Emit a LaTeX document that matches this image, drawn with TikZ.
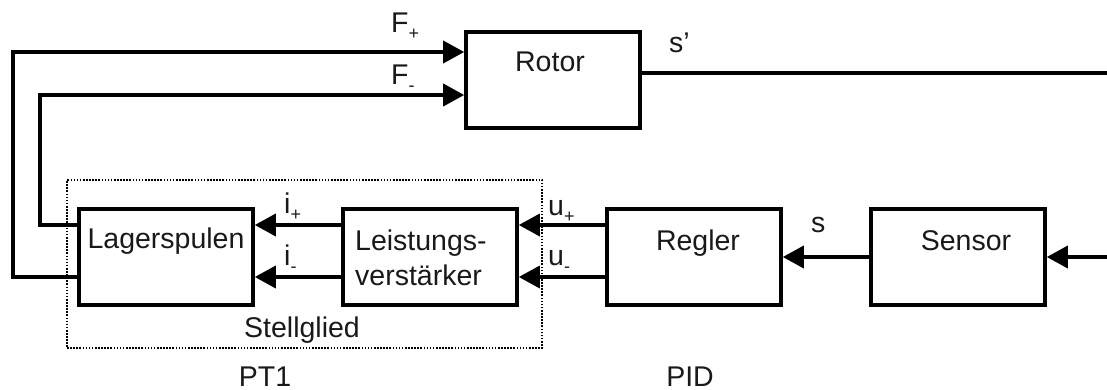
\documentclass[tikz,border=0pt]{standalone}
\usepackage{fontspec}
\setmainfont{Liberation Sans}
\usetikzlibrary{arrows.meta}

% small lowered index after a signal name
\newcommand{\idx}[1]{\raisebox{-7pt}{\fontsize{18}{18}\selectfont #1}}

\tikzset{
	block/.style={draw, line width=3.6pt, minimum width=174pt, minimum height=96pt, inner sep=0pt},
	groupbox/.style={draw, line width=2pt, dash pattern=on 1.6pt off 1.5pt, inner sep=0pt},
	txt/.style={inner sep=0pt, text=black!90, font=\fontsize{28.5}{35}\selectfont},
	sig/.style={line width=3.6pt, -{Triangle[length=21pt,width=22pt]}},
	wire/.style={line width=3.6pt},
}

\begin{document}
\begin{tikzpicture}[x=1pt, y=-1pt]
	\useasboundingbox (0,0) rectangle (1107,390);
	% blocks
	\node[block] (rotor) at (553,80) {};
	\node[block] (lager) at (166,257) {};
	\node[block] (verst) at (430,257) {};
	\node[block] (regler) at (694,257) {};
	\node[block] (sensor) at (958,257) {};
	\node[groupbox, minimum width=475pt, minimum height=168pt] (stell) at (304.5,264) {};
	% block names
	\node[txt, anchor=base] (rotorname) at (550,72) {Rotor};
	\node[txt, anchor=base] (lagername) at (166,248) {Lagerspulen};
	\node[txt, anchor=north west, align=left] (verstname) at (355,229.5) {Leistungs-\\verstärker};
	\node[txt, anchor=base] (reglername) at (698,250) {Regler};
	\node[txt, anchor=base] (sensorname) at (966,250) {Sensor};
	\node[txt, anchor=base] (stellname) at (302,337) {Stellglied};
	\node[txt, anchor=base] (ptname) at (265,386) {PT1};
	\node[txt, anchor=base] (pidname) at (690,386) {PID};
	% signal names
	\node[txt, anchor=base west] (fplus) at (391,33) {F\idx{+}};
	\node[txt, anchor=base west] (fminus) at (391,85) {F\idx{-}};
	\node[txt, anchor=base west] (sprime) at (669,53) {s’};
	\node[txt, anchor=base west] (iplus) at (284,213) {i\idx{+}};
	\node[txt, anchor=base west] (iminus) at (284,265) {i\idx{-}};
	\node[txt, anchor=base west] (uplus) at (548,215) {u\idx{+}};
	\node[txt, anchor=base west] (uminus) at (548,265) {u\idx{-}};
	\node[txt, anchor=base west] (sval) at (811,232) {s};
	% corners and the open ends at the right border
	\coordinate (fpcorner) at (13,52);
	\coordinate (fmcorner) at (40,95);
	\coordinate (sout) at (1107,73);
	\coordinate (sin) at (1107,257);
	% connections
	\draw[sig] ([yshift=-20pt]lager.west) -| (fpcorner) -- ([yshift=28pt]rotor.west);
	\draw[sig] ([yshift=32pt]lager.west) -| (fmcorner) -- ([yshift=-15pt]rotor.west);
	\draw[sig] ([yshift=32pt]verst.west) -- ([yshift=32pt]lager.east);
	\draw[sig] ([yshift=-20pt]verst.west) -- ([yshift=-20pt]lager.east);
	\draw[sig] ([yshift=32pt]regler.west) -- ([yshift=32pt]verst.east);
	\draw[sig] ([yshift=-20pt]regler.west) -- ([yshift=-20pt]verst.east);
	\draw[sig] (sensor.west) -- (regler.east);
	\draw[sig] (sin) -- (sensor.east);
	\draw[wire] ([yshift=7pt]rotor.east) -- (sout);
\end{tikzpicture}
\end{document}
